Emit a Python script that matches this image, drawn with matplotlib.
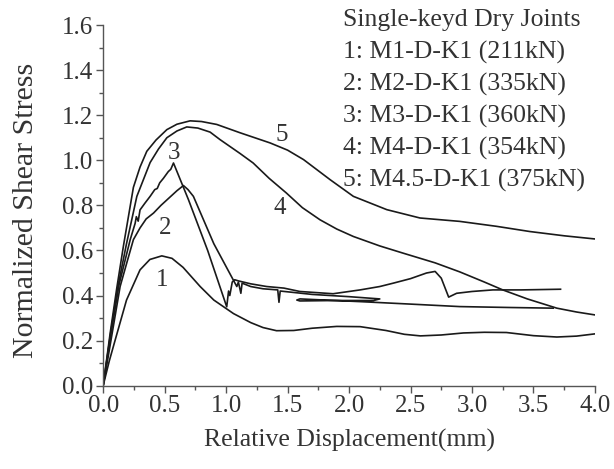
import matplotlib
matplotlib.use("Agg")
import matplotlib.pyplot as plt
from matplotlib.ticker import MultipleLocator, FormatStrFormatter

plt.rcParams['font.family'] = ['Liberation Serif', 'DejaVu Serif']

# Curve 1: M1-D-K1
x1 = [0, 0.05, 0.098, 0.19, 0.3, 0.38, 0.477, 0.56, 0.65, 0.789, 0.9, 1.06, 1.2, 1.3, 1.41, 1.55, 1.7, 1.9, 2.09,
      2.3, 2.45, 2.58, 2.75, 2.93, 3.1, 3.28, 3.5, 3.69, 3.85, 4.0]
y1 = [0, 0.11, 0.203, 0.38, 0.514, 0.56, 0.576, 0.565, 0.525, 0.44, 0.38, 0.32, 0.28, 0.258, 0.244, 0.245, 0.255,
      0.263, 0.262, 0.245, 0.228, 0.221, 0.225, 0.234, 0.237, 0.236, 0.222, 0.216, 0.22, 0.23]

# Curve 2: M2-D-K1
x2 = [0, 0.06, 0.138, 0.2, 0.246, 0.3, 0.35, 0.41, 0.47, 0.53, 0.6, 0.653, 0.69, 0.734, 0.9, 1.087,
      1.1, 1.12, 1.13, 1.2, 1.3, 1.42, 1.43, 1.44, 1.7, 2.0, 2.25, 2.2, 1.9, 1.6, 1.575, 1.6, 2.09, 2.5, 2.9,
      3.3, 3.66]
y2 = [0, 0.19, 0.44, 0.56, 0.648, 0.70, 0.74, 0.766, 0.80, 0.83, 0.865, 0.888, 0.87, 0.84, 0.63, 0.44,
      0.46, 0.41, 0.455, 0.44, 0.43, 0.425, 0.37, 0.42, 0.405, 0.395, 0.385, 0.378, 0.378, 0.376, 0.38, 0.385,
      0.373, 0.362, 0.351, 0.347, 0.344]

# Curve 3: M3-D-K1
x3 = [0, 0.06, 0.13, 0.22, 0.26, 0.27, 0.285, 0.30, 0.34, 0.382, 0.42, 0.44, 0.46, 0.49, 0.51, 0.53, 0.55,
      0.572, 0.694, 0.85, 1.005, 1.02, 1.03, 1.05, 1.07, 1.1, 1.2, 1.33, 1.47, 1.6, 1.87, 2.09, 2.25, 2.36, 2.5,
      2.63, 2.70, 2.75, 2.81, 2.875, 3.0, 3.17, 3.4, 3.72]
y3 = [0, 0.22, 0.45, 0.648, 0.72, 0.75, 0.73, 0.78, 0.81, 0.84, 0.87, 0.875, 0.90, 0.92, 0.935, 0.95, 0.96,
      0.988, 0.825, 0.60, 0.35, 0.42, 0.40, 0.46, 0.47, 0.465, 0.452, 0.44, 0.433, 0.418, 0.408, 0.425, 0.44,
      0.455, 0.475, 0.50, 0.507, 0.477, 0.393, 0.41, 0.418, 0.425, 0.425, 0.428]

# Curve 4: M4-D-K1
x4 = [0, 0.06, 0.12, 0.19, 0.274, 0.382, 0.45, 0.518, 0.6, 0.68, 0.77, 0.87, 0.95, 1.114, 1.22, 1.35, 1.49,
      1.62, 1.764, 1.9, 2.035, 2.25, 2.44, 2.7, 2.9, 3.1, 3.25, 3.45, 3.69, 3.85, 4.0]
y4 = [0, 0.23, 0.44, 0.63, 0.84, 0.99, 1.05, 1.10, 1.13, 1.148, 1.143, 1.125, 1.092, 1.03, 0.988, 0.92, 0.855,
      0.79, 0.736, 0.695, 0.662, 0.62, 0.588, 0.545, 0.505, 0.46, 0.425, 0.385, 0.344, 0.327, 0.314]

# Curve 5: M4.5-D-K1
x5 = [0, 0.057, 0.11, 0.165, 0.246, 0.3, 0.355, 0.43, 0.518, 0.6, 0.707, 0.8, 0.924, 1.114, 1.358, 1.5,
      1.63, 1.846, 2.035, 2.307, 2.577, 2.9, 3.2, 3.47, 3.75, 4.0]
y5 = [0, 0.233, 0.43, 0.62, 0.88, 0.97, 1.04, 1.09, 1.136, 1.16, 1.175, 1.172, 1.159, 1.122, 1.077, 1.045,
      1.003, 0.914, 0.84, 0.781, 0.744, 0.729, 0.707, 0.684, 0.665, 0.651]

curve_labels = ['1', '2', '3', '4', '5']
label_x = [0.477, 0.504, 0.577, 1.44, 1.45]
label_y = [0.47, 0.70, 1.033, 0.79, 1.11]

legend_title = 'Single-keyd Dry Joints'
legend_lines = ['1: M1-D-K1 (211kN)', '2: M2-D-K1 (335kN)', '3: M3-D-K1 (360kN)',
                '4: M4-D-K1 (354kN)', '5: M4.5-D-K1 (375kN)']

fig = plt.figure(figsize=(6.14, 4.69), dpi=100)
ax = fig.add_axes([0.168, 0.1776, 0.801, 0.769])

lc = '#1a1a1a'
for xs, ys in [(x1, y1), (x2, y2), (x3, y3), (x4, y4), (x5, y5)]:
    ax.plot(xs, ys, color=lc, lw=1.2, solid_joinstyle='round')

tc = '#333333'
fs = 18
for t, lx, ly in zip(curve_labels, label_x, label_y):
    ax.text(lx, ly, t, fontsize=fs, color=tc, ha='center', va='center')

ax.set_xlim(0, 4.0)
ax.set_ylim(0, 1.6)
ax.xaxis.set_major_locator(MultipleLocator(0.5))
ax.xaxis.set_minor_locator(MultipleLocator(0.25))
ax.yaxis.set_major_locator(MultipleLocator(0.2))
ax.yaxis.set_minor_locator(MultipleLocator(0.1))
ax.xaxis.set_major_formatter(FormatStrFormatter('%.1f'))
ax.yaxis.set_major_formatter(FormatStrFormatter('%.1f'))
for s in ['top', 'right']:
    ax.spines[s].set_visible(False)
for s in ['left', 'bottom']:
    ax.spines[s].set_color('#555555')
    ax.spines[s].set_linewidth(1.0)
ax.tick_params(which='major', direction='out', length=5, width=1.0, color='#555555',
               labelsize=fs, labelcolor=tc, pad=2)
ax.tick_params(which='minor', direction='out', length=3, width=1.0, color='#555555')

ax.set_xlabel('Relative Displacement(mm)', fontsize=18.5, color=tc, labelpad=8)
ax.set_ylabel('Normalized Shear Stress', fontsize=21.5, color=tc)
ax.yaxis.set_label_coords(-0.13, 0.487)

fx = 343 / 614
fig.text(fx, 1 - 20 / 469, legend_title, fontsize=18.5, color=tc, ha='left', va='center')
for i, t in enumerate(legend_lines):
    fig.text(fx, 1 - (52 + 32 * i) / 469, t, fontsize=18.5, color=tc, ha='left', va='center')

fig.savefig('out.png', dpi=100)
